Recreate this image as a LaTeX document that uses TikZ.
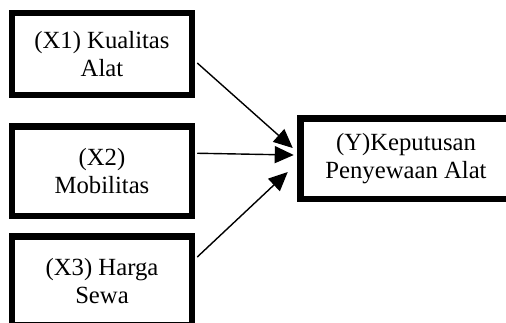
\documentclass[tikz,border=0pt]{standalone}
\usepackage{fontspec}
\setmainfont{Liberation Serif}
\usetikzlibrary{arrows.meta}
\begin{document}
\begin{tikzpicture}[x=1pt,y=-1pt,
  varbox/.style={draw=black,line width=6.5pt,minimum width=180pt,inner sep=0pt,align=center,
    font=\fontsize{24.7}{28}\selectfont},
  conn/.style={line width=1.4pt,-{Triangle[length=19pt,width=17pt]}}]
\useasboundingbox (0,0) rectangle (506,322);
\clip (0,0) rectangle (506,322);
\fill[white] (0,0) rectangle (506,322);
\node[varbox,minimum height=82pt] (x1) at (102,54) {(X1) Kualitas\\Alat};
\node[varbox,minimum height=89.5pt] (x2) at (102,171.25) {(X2)\\Mobilitas};
\node[varbox,minimum height=89pt] (x3) at (102,281) {(X3) Harga\\Sewa};
\node[varbox,minimum width=211pt,minimum height=80.5pt] (y) at (406,158.75) {(Y)Keputusan\\Penyewaan Alat};
\draw[conn] ([xshift=2pt,yshift=-9pt]x1.east) -- ([xshift=-4.5pt,yshift=10.75pt]y.west);
\draw[conn] ([xshift=2pt,yshift=18pt]x2.east) -- ([xshift=-3.5pt,yshift=3.75pt]y.west);
\draw[conn] ([xshift=2pt,yshift=24pt]x3.east) -- ([xshift=-9.5pt,yshift=-13.25pt]y.west);
\end{tikzpicture}
\end{document}
